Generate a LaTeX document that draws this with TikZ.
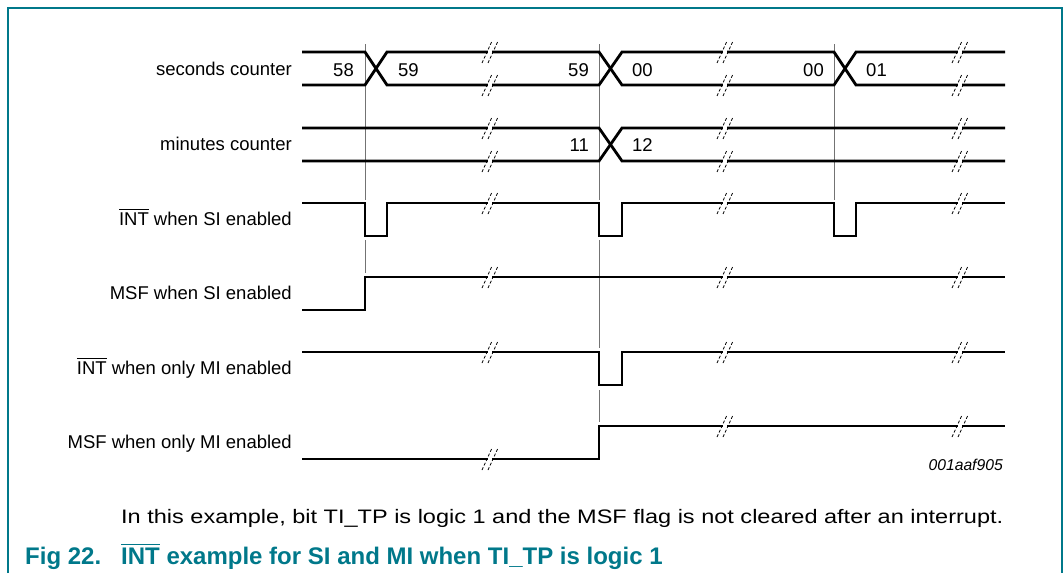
\documentclass[tikz,border=0pt]{standalone}
\usepackage{fontspec}
\setmainfont{Liberation Sans}
\definecolor{nxp}{HTML}{00788A}
\newcommand\ovl[1]{\leavevmode\vbox{\hrule height 1.4pt \kern 2pt \hbox{#1}}}
\begin{document}
\begin{tikzpicture}[x=1pt,y=-1pt,
  sig/.style={line width=2.8pt, line join=miter},
  guide/.style={line width=0.9pt, black!55},
  brk/.style={line width=0.8pt, dash pattern=on 3pt off 2pt},
  lbl/.style={anchor=base east, inner sep=0pt, font=\fontsize{18.5}{20}\selectfont},
  vl/.style={anchor=base east, inner sep=0pt, font=\fontsize{18.5}{20}\selectfont},
  vr/.style={anchor=base west, inner sep=0pt, font=\fontsize{18.5}{20}\selectfont},
]
\useasboundingbox (0,0) rectangle (1064,573);
\draw[nxp, line width=1.5pt] (8,573) -- (8,8) -- (1062,8) -- (1062,573);

% guide lines
\draw[guide] (365,44) -- (365,200) (365,240) -- (365,273);
\draw[guide] (599,44) -- (599,200) (599,240) -- (599,348) (599,390) -- (599,422);
\draw[guide] (834,44) -- (834,200);

% seconds counter
\draw[sig] (302,52) -- (365,52) -- (387,85) -- (599,85) -- (622,52) -- (834,52) -- (856,85) -- (1005,85);
\draw[sig] (302,85) -- (365,85) -- (387,52) -- (599,52) -- (622,85) -- (834,85) -- (856,52) -- (1005,52);
% minutes counter
\draw[sig] (302,128) -- (599,128) -- (622,161) -- (1005,161);
\draw[sig] (302,161) -- (599,161) -- (622,128) -- (1005,128);
% INT when SI
\draw[sig] (302,203) -- (365,203) -- (365,236) -- (387,236) -- (387,203) -- (599,203) -- (599,236) -- (622,236) -- (622,203) -- (834,203) -- (834,236) -- (856,236) -- (856,203) -- (1005,203);
% MSF when SI
\draw[sig] (302,310) -- (365,310) -- (365,277) -- (1005,277);
% INT when only MI
\draw[sig] (302,352) -- (599,352) -- (599,385) -- (622,385) -- (622,352) -- (1005,352);
% MSF when only MI
\draw[sig] (302,459) -- (599,459) -- (599,426) -- (1005,426);

% break marks
\foreach \x/\y in {490/52,490/85,725/52,725/85,960/52,960/85,
                   490/128,490/161,725/128,725/161,960/128,960/161,
                   490/203,725/203,960/203,490/277,725/277,960/277,
                   490/352,725/352,960/352,490/459,725/426,960/426}{
  \draw[white, line width=3.5pt] ({\x-2.2},\y) -- ({\x+2.2},\y);
  \draw[brk] ({\x-8},{\y+11}) -- ({\x+2},{\y-11});
  \draw[brk] ({\x-2},{\y+11}) -- ({\x+8},{\y-11});
}

% labels
\node[lbl] (l1) at (292,75) {seconds counter};
\node[lbl] (l2) at (292,150) {minutes counter};
\node[lbl] (l3) at (292,225) {\ovl{INT} when SI enabled};
\node[lbl] (l4) at (292,299) {MSF when SI enabled};
\node[lbl] (l5) at (292,374) {\ovl{INT} when only MI enabled};
\node[lbl] (l6) at (292,448) {MSF when only MI enabled};

% values
\node[vl] (v58) at (354,76) {58};
\node[vr] (v59a) at (398,76) {59};
\node[vl] (v59b) at (589,76) {59};
\node[vr] (v00a) at (632,76) {00};
\node[vl] (v00b) at (824,76) {00};
\node[vr] (v01) at (866,76) {01};
\node[vl] (v11) at (589,151) {11};
\node[vr] (v12) at (632,151) {12};

\node[anchor=base east, inner sep=0pt, font=\fontsize{15.7}{17}\selectfont\itshape] (id) at (1003,470) {001aaf905};

\node[anchor=base west, inner sep=0pt, font=\fontsize{19.5}{21}\selectfont] (note) at (121,523)
  {\resizebox{882pt}{\height}{In this example, bit TI\_TP is logic 1 and the MSF flag is not cleared after an interrupt.}};

\node[anchor=base west, inner sep=0pt, text=nxp, font=\fontsize{24}{27}\selectfont\bfseries] (fig) at (25,564) {Fig 22.};
\node[anchor=base west, inner sep=0pt, text=nxp, font=\fontsize{24}{27}\selectfont\bfseries] (cap) at (121,564)
  {\ovl{INT} example for SI and MI when TI\_TP is logic 1};
\end{tikzpicture}
\end{document}
